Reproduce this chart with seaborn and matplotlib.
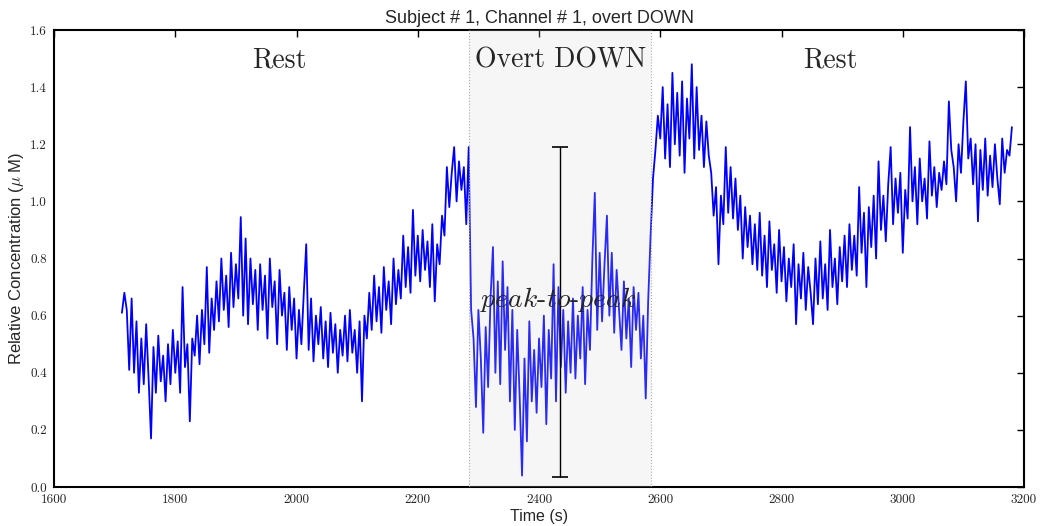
import numpy as np
import pandas as pd
import matplotlib
matplotlib.use("Agg")
import matplotlib.pyplot as plt
import seaborn as sns

# ---- recording: channel 1, sampled every 4 s starting at t0 ----
t0 = 1712
dt = 4
concentration = [
    0.61, 0.68, 0.62, 0.41, 0.66, 0.40, 0.58, 0.33, 0.52, 0.36, 0.57, 0.38, 0.17, 0.49, 0.33, 0.53, 0.37, 0.46, 0.30, 0.50,
    0.36, 0.55, 0.40, 0.51, 0.33, 0.70, 0.42, 0.50, 0.23, 0.52, 0.46, 0.60, 0.43, 0.62, 0.50, 0.77, 0.47, 0.66, 0.55, 0.72,
    0.58, 0.80, 0.62, 0.74, 0.56, 0.82, 0.63, 0.78, 0.66, 0.945, 0.60, 0.87, 0.57, 0.80, 0.64, 0.76, 0.55, 0.78, 0.62, 0.74,
    0.52, 0.80, 0.63, 0.72, 0.50, 0.76, 0.60, 0.68, 0.48, 0.70, 0.55, 0.66, 0.45, 0.62, 0.50, 0.68, 0.85, 0.48, 0.66, 0.44,
    0.60, 0.50, 0.63, 0.45, 0.58, 0.42, 0.61, 0.47, 0.57, 0.40, 0.55, 0.46, 0.60, 0.44, 0.62, 0.47, 0.55, 0.40, 0.58, 0.30,
    0.60, 0.52, 0.68, 0.55, 0.74, 0.58, 0.70, 0.54, 0.77, 0.62, 0.72, 0.57, 0.80, 0.64, 0.76, 0.66, 0.88, 0.70, 0.84, 0.68,
    0.97, 0.74, 0.88, 0.72, 0.90, 0.76, 0.86, 0.70, 0.92, 0.65, 0.85, 0.78, 0.95, 0.88, 1.12, 0.98, 1.10, 1.19, 1.00, 1.14,
    1.04, 1.12, 0.92, 1.19, 0.62, 0.52, 0.28, 0.62, 0.45, 0.19, 0.56, 0.35, 0.66, 0.84, 0.40, 0.72, 0.36, 0.79, 0.48, 0.70,
    0.30, 0.62, 0.20, 0.55, 0.32, 0.04, 0.45, 0.16, 0.58, 0.30, 0.48, 0.26, 0.52, 0.35, 0.60, 0.22, 0.55, 0.38, 0.78, 0.30,
    0.70, 0.42, 0.62, 0.33, 0.58, 0.40, 0.66, 0.38, 0.60, 0.45, 0.70, 0.36, 0.62, 0.48, 0.80, 1.03, 0.55, 0.82, 0.58, 0.78,
    0.95, 0.60, 0.82, 0.54, 0.76, 0.62, 0.48, 0.72, 0.52, 0.66, 0.42, 0.70, 0.55, 0.68, 0.45, 0.60, 0.31, 0.65, 0.88, 1.08,
    1.18, 1.30, 1.22, 1.40, 1.15, 1.34, 1.12, 1.45, 1.20, 1.38, 1.16, 1.42, 1.10, 1.36, 1.22, 1.48, 1.15, 1.40, 1.18, 1.30,
    1.12, 1.28, 1.16, 1.10, 0.95, 1.05, 0.78, 1.02, 0.92, 1.19, 0.96, 1.12, 0.94, 1.08, 0.90, 1.02, 0.80, 0.98, 0.84, 0.95,
    0.78, 0.92, 0.76, 0.96, 0.74, 0.88, 0.70, 0.93, 0.76, 0.85, 0.68, 0.90, 0.72, 0.84, 0.65, 0.80, 0.70, 0.85, 0.57, 0.78,
    0.66, 0.82, 0.62, 0.77, 0.68, 0.57, 0.80, 0.64, 0.86, 0.66, 0.78, 0.62, 0.90, 0.70, 0.80, 0.64, 0.84, 0.72, 0.88, 0.70,
    0.92, 0.76, 0.88, 0.74, 1.05, 0.82, 0.96, 0.70, 0.98, 0.84, 1.02, 0.80, 1.14, 0.90, 1.02, 0.86, 1.06, 1.19, 0.92, 1.08,
    0.96, 1.10, 0.82, 1.04, 0.94, 1.26, 1.00, 1.12, 0.92, 1.15, 1.00, 1.08, 0.94, 1.21, 1.02, 1.12, 0.98, 1.10, 1.04, 1.14,
    1.06, 1.35, 1.18, 1.12, 1.00, 1.20, 1.10, 1.28, 1.42, 1.15, 1.22, 1.06, 1.20, 0.93, 1.18, 1.04, 1.22, 1.02, 1.16, 1.05,
    1.20, 1.08, 0.99, 1.22, 1.10, 1.18, 1.16, 1.26,
]
time_s = t0 + dt * np.arange(len(concentration))

# task block and its peak-to-peak range
task_start, task_end = 2285, 2585
p2p_time = 2435
p2p_low, p2p_high = 0.035, 1.19

# block labels
block_labels = ["Rest", "Overt DOWN", "Rest"]
block_label_x = [1972, 2435, 2881]
block_label_y = 1.495

x_ticks = [1600, 1800, 2000, 2200, 2400, 2600, 2800, 3000, 3200]
x_tick_labels = ["1600", "1800", "2000", "2200", "2400", "2600", "2800", "3000", "3200"]
y_ticks = [0.0, 0.2, 0.4, 0.6, 0.8, 1.0, 1.2, 1.4, 1.6]
y_tick_labels = ["0.0", "0.2", "0.4", "0.6", "0.8", "1.0", "1.2", "1.4", "1.6"]

df = pd.DataFrame({"Time (s)": time_s, "conc": concentration})

sns.set_style("white")
plt.rcParams["font.family"] = ["Liberation Sans", "DejaVu Sans"]
plt.rcParams["mathtext.fontset"] = "cm"
plt.rcParams["axes.formatter.use_mathtext"] = True

fig = plt.figure(figsize=(10.41, 5.26), dpi=100)
ax = fig.add_axes([0.0519, 0.0741, 0.9318, 0.8689])

sns.lineplot(data=df, x="Time (s)", y="conc", ax=ax, color="#0000ff",
             linewidth=1.3, estimator=None, zorder=2)

# shaded task block drawn over the trace
ax.axvspan(task_start, task_end, facecolor="#d3d3d3", alpha=0.2,
           edgecolor="none", zorder=3)
for xe in (task_start, task_end):
    ax.axvline(xe, color="#aaaaaa", linestyle=":", linewidth=0.8, zorder=3)

# peak-to-peak bar
ax.errorbar([p2p_time], [(p2p_low + p2p_high) / 2],
            yerr=[[(p2p_high - p2p_low) / 2], [(p2p_high - p2p_low) / 2]],
            color="black", elinewidth=1.0, capsize=6, capthick=1.2, zorder=4)
ax.text(p2p_time - 3, 0.655, r"$peak$-$to$-$peak$", fontsize=20,
        fontfamily="cmr10", ha="center", va="center", zorder=5)

for lbl, xl in zip(block_labels, block_label_x):
    ax.text(xl, block_label_y, lbl, fontsize=20, fontfamily="cmr10",
            ha="center", va="center", zorder=5)

ax.set_xlim(1600, 3200)
ax.set_ylim(0.0, 1.6)
ax.set_xticks(x_ticks)
ax.set_xticklabels(x_tick_labels, fontfamily="cmr10", fontsize=9.5)
ax.set_yticks(y_ticks)
ax.set_yticklabels(y_tick_labels, fontfamily="cmr10", fontsize=9.5)
ax.tick_params(direction="in", length=5, width=1.0, top=True, right=True,
               color="black", pad=5)

for sp in ax.spines.values():
    sp.set_color("black")
    sp.set_linewidth(1.5)

ax.set_xlabel("Time (s)", fontsize=11.5, labelpad=2)
ax.set_ylabel(r"Relative Concentration ($\mu$ M)", fontsize=12, labelpad=3)
ax.set_title("Subject # 1, Channel # 1, overt DOWN", fontsize=13, pad=5)

fig.savefig("out.png", dpi=100)
